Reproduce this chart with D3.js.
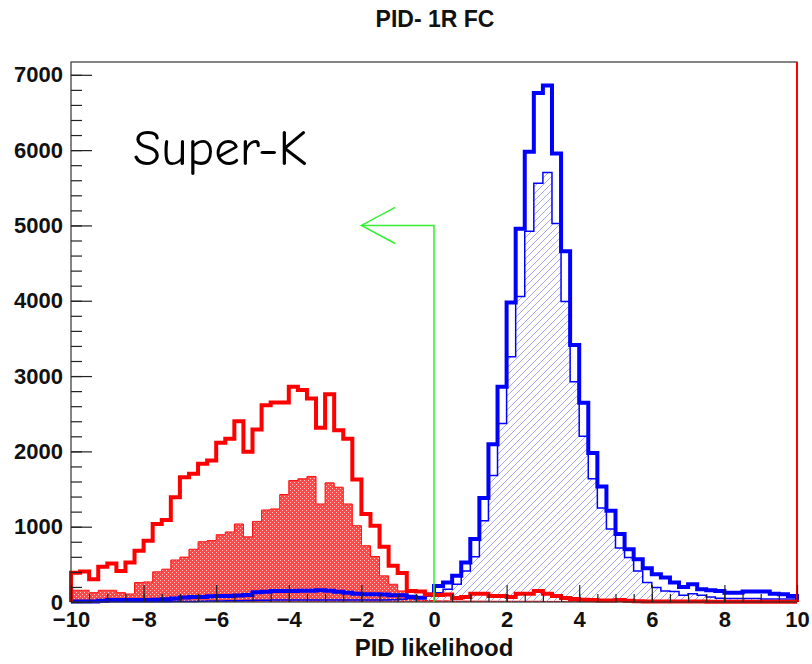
<!DOCTYPE html>
<html>
<head>
<meta charset="utf-8">
<script src="https://cdn.jsdelivr.net/npm/d3@7"></script>
<style>
  body { margin: 0; background: #fff; }
  svg text { font-family: "Liberation Sans", Arial, Helvetica, sans-serif; font-weight: bold; fill: #111; }
</style>
</head>
<body>
<div id="chart"></div>
<script>

  // 80 bins of width 0.25 between -10 and 10
  var histLow = -10, histHigh = 10, binWidth = 0.25;

  // thick red outline
  var redTotal = [390, 405, 302, 467, 511, 413, 524, 680, 813, 1036,
                  1089, 1391, 1658, 1702, 1836, 1880, 2115, 2169, 2400, 1995,
                  2290, 2613, 2650, 2650, 2858, 2815, 2702, 2315, 2760, 2280,
                  2169, 1625, 1170, 1013, 735, 480, 385, 147, 140, 100,
                  93, 100, 53, 67, 111, 111, 80, 80, 67, 111,
                  111, 147, 111, 80, 53, 40, 30, 27, 20, 20,
                  25, 15, 10, 8, 8, 5, 5, 5, 5, 5,
                  3, 3, 3, 3, 3, 2, 2, 2, 2, 2];

  // red dotted fill
  var redFilled = [156, 156, 124, 156, 156, 124, 107, 258, 267, 400,
                   436, 558, 596, 700, 800, 815, 893, 930, 1036, 865,
                   1070, 1222, 1236, 1427, 1613, 1636, 1667, 1302, 1582, 1524,
                   1302, 1013, 747, 604, 347, 236, 147, 40, 25, 20,
                   15, 15, 12, 12, 12, 12, 10, 10, 10, 10,
                   10, 10, 8, 8, 8, 8, 5, 5, 5, 5,
                   5, 3, 3, 3, 3, 3, 3, 3, 2, 2,
                   2, 2, 2, 2, 2, 2, 2, 2, 2, 2];

  // thick blue outline
  var blueTotal = [8, 8, 8, 15, 25, 27, 27, 27, 27, 30,
                   35, 47, 60, 67, 67, 75, 80, 80, 85, 93,
                   130, 135, 145, 147, 147, 150, 150, 155, 150, 135,
                   124, 110, 102, 102, 100, 90, 88, 70, 58, 100,
                   213, 258, 347, 524, 836, 1382, 2093, 2858, 3977, 4955,
                   5977, 6760, 6858, 5955, 4658, 3413, 2644, 1978, 1533, 1213,
                   902, 702, 569, 449, 369, 324, 258, 200, 236, 169,
                   156, 147, 124, 124, 138, 138, 138, 111, 102, 80];

  // thin blue outline, hatched
  var blueHatched = [2, 2, 2, 2, 2, 2, 2, 2, 3, 3,
                     4, 5, 6, 8, 10, 12, 14, 16, 18, 20,
                     22, 24, 25, 26, 27, 28, 28, 28, 28, 28,
                     28, 28, 27, 27, 27, 30, 35, 45, 60, 80,
                     124, 170, 236, 413, 600, 1080, 1680, 2369, 3258, 4058,
                     4924, 5560, 5702, 5027, 3991, 2924, 2200, 1636, 1249, 969,
                     716, 591, 413, 258, 191, 147, 138, 89, 111, 89,
                     67, 50, 45, 45, 45, 45, 40, 40, 40, 40];

  var xTicks = [-10, -8, -6, -4, -2, 0, 2, 4, 6, 8, 10];
  var yTicks = [0, 1000, 2000, 3000, 4000, 5000, 6000, 7000];

  // cut: vertical at 0 up to 5000, then arrow pointing left to -2
  var cutX = 0, cutTop = 5000, arrowTipX = -2, arrowWingX = -1.07, arrowWingDy = 240;

  var width = 812, height = 664;
  var plot = {left: 71, right: 797, top: 62, bottom: 602};

  var svg = d3.select("#chart").append("svg")
              .attr("width", width)
              .attr("height", height)
              .style("background", "#fff");

  var x = d3.scaleLinear().domain([histLow, histHigh]).range([plot.left, plot.right]);
  var y = d3.scaleLinear().domain([0, 7170]).range([plot.bottom, plot.top]);

  var defs = svg.append("defs");

  var hatch = defs.append("pattern")
                  .attr("id", "blueHatch")
                  .attr("patternUnits", "userSpaceOnUse")
                  .attr("width", 7).attr("height", 7);
  hatch.append("path")
       .attr("d", "M-1,8 L8,-1 M-1,1 L1,-1 M6,8 L8,6")
       .attr("stroke", "#a6aaf2")
       .attr("stroke-width", 1);

  // faint light dots laid over a solid red
  var dots = defs.append("pattern")
                 .attr("id", "redDots")
                 .attr("patternUnits", "userSpaceOnUse")
                 .attr("width", 4).attr("height", 4);
  dots.append("rect").attr("x", 0).attr("y", 0).attr("width", 1).attr("height", 1).attr("fill", "#fff").attr("opacity", 0.7);
  dots.append("rect").attr("x", 2).attr("y", 2).attr("width", 1).attr("height", 1).attr("fill", "#fff").attr("opacity", 0.7);

  // turn bin contents into step points, one per low edge plus the closing edge
  var toSteps = values => {
        var pts = values.map((v, i) => ({x: histLow + i * binWidth, v: v}));
        pts.push({x: histHigh, v: values[values.length - 1]});
        return pts;
  }

  var outline = values => {
        var pts = [{x: histLow, v: 0}].concat(toSteps(values), [{x: histHigh, v: 0}]);
        return d3.line().curve(d3.curveStepAfter)
                 .x(d => x(d.x)).y(d => y(d.v))(pts);
  }

  var area = d3.area().curve(d3.curveStepAfter)
               .x(d => x(d.x))
               .y0(y(0))
               .y1(d => y(d.v));

  var g = svg.append("g");

  // red filled histogram
  g.append("path")
   .attr("d", area(toSteps(redFilled)))
   .attr("fill", "#ff4848");
  g.append("path")
   .attr("d", area(toSteps(redFilled)))
   .attr("fill", "url(#redDots)");
  g.append("path")
   .attr("d", outline(redFilled))
   .attr("fill", "none")
   .attr("stroke", "#ff1010")
   .attr("stroke-width", 1);

  // blue hatched histogram
  g.append("path")
   .attr("d", area(toSteps(blueHatched)))
   .attr("fill", "url(#blueHatch)");
  g.append("path")
   .attr("d", outline(blueHatched))
   .attr("fill", "none")
   .attr("stroke", "#0000ff")
   .attr("stroke-width", 1.5);

  // thick outlines
  g.append("path")
   .attr("d", outline(blueTotal))
   .attr("fill", "none")
   .attr("stroke", "#0000ff")
   .attr("stroke-width", 4);
  g.append("path")
   .attr("d", outline(redTotal))
   .attr("fill", "none")
   .attr("stroke", "#ff0000")
   .attr("stroke-width", 4);

  // frame
  svg.append("rect")
     .attr("x", plot.left).attr("y", plot.top)
     .attr("width", plot.right - plot.left)
     .attr("height", plot.bottom - plot.top)
     .attr("fill", "none")
     .attr("stroke", "#333")
     .attr("stroke-width", 1.2);

  // red line along the right edge
  svg.append("line")
     .attr("x1", x(histHigh)).attr("x2", x(histHigh))
     .attr("y1", y.range()[0]).attr("y2", y.range()[1])
     .attr("stroke", "#ff0000")
     .attr("stroke-width", 2);

  // axes, ticks drawn inward as in ROOT
  var yMinor = d3.range(0, 7170, 200);
  svg.append("g")
     .attr("transform", "translate(" + plot.left + ",0)")
     .call(d3.axisLeft(y).tickValues(yMinor).tickSize(-11).tickSizeOuter(0).tickFormat(""))
     .call(a => a.select(".domain").remove());
  svg.append("g")
     .attr("transform", "translate(" + plot.left + ",0)")
     .call(d3.axisLeft(y).tickValues(yTicks).tickSize(-21).tickSizeOuter(0).tickPadding(8).tickFormat(d3.format("d")))
     .call(a => a.select(".domain").remove())
     .call(a => a.selectAll("text").style("font-size", "22px").attr("fill", "#111"));

  var xMinor = d3.range(-10, 10.01, 0.5);
  svg.append("g")
     .attr("transform", "translate(0," + plot.bottom + ")")
     .call(d3.axisBottom(x).tickValues(xMinor).tickSize(-8).tickSizeOuter(0).tickFormat(""))
     .call(a => a.select(".domain").remove());
  svg.append("g")
     .attr("transform", "translate(0," + plot.bottom + ")")
     .call(d3.axisBottom(x).tickValues(xTicks).tickSize(-17).tickSizeOuter(0).tickPadding(9).tickFormat(d3.format("d")))
     .call(a => a.select(".domain").remove())
     .call(a => a.selectAll("text").style("font-size", "22px").attr("fill", "#111"));

  svg.selectAll(".tick line").attr("stroke", "#222").attr("stroke-width", 1.2);

  // cut line with arrow
  svg.append("path")
     .attr("d", d3.line()([[x(cutX), y(0)], [x(cutX), y(cutTop)], [x(arrowTipX), y(cutTop)]]))
     .attr("fill", "none")
     .attr("stroke", "#33f033")
     .attr("stroke-width", 1.5);
  svg.append("path")
     .attr("d", d3.line()([[x(arrowWingX), y(cutTop + arrowWingDy)], [x(arrowTipX), y(cutTop)], [x(arrowWingX), y(cutTop - arrowWingDy)]]))
     .attr("fill", "none")
     .attr("stroke", "#33f033")
     .attr("stroke-width", 1.5);

  // titles
  svg.append("text")
     .attr("x", 435).attr("y", 27)
     .attr("text-anchor", "middle")
     .style("font-size", "23px")
     .text("PID- 1R FC");

  svg.append("text")
     .attr("x", (plot.left + plot.right) / 2).attr("y", 656)
     .attr("text-anchor", "middle")
     .style("font-size", "24px")
     .text("PID likelihood");

  svg.append("text")
     .attr("x", 133).attr("y", 165)
     .style("font-family", "'Comic Sans MS', 'Comic Neue', 'Noto Sans', sans-serif")
     .style("font-weight", "normal")
     .style("font-size", "51px")
     .style("fill", "#000")
     .text("Super-K");

</script>
</body>
</html>
